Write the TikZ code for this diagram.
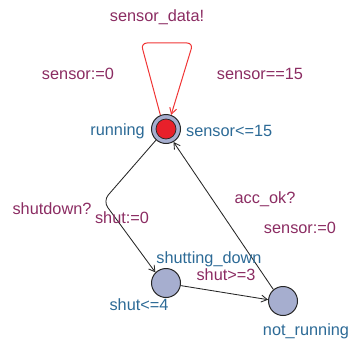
\documentclass[tikz,border=0pt]{standalone}
\usepackage{fontspec}
\setmainfont{Liberation Sans}
\usetikzlibrary{arrows.meta}
\definecolor{lblpurple}{HTML}{8B2C62}
\definecolor{lblblue}{HTML}{2C6A96}
\definecolor{locfill}{HTML}{A6AECF}
\definecolor{loopred}{HTML}{F03535}
\definecolor{initred}{HTML}{E8202A}
\begin{document}
\begin{tikzpicture}[x=1pt,y=-1pt,
  loc/.style={circle,draw=black!85,fill=locfill,line width=1pt,minimum size=29pt,inner sep=0pt},
  purp/.style={text=lblpurple,font=\fontsize{16.3}{18}\selectfont,inner sep=0pt},
  blu/.style={text=lblblue,font=\fontsize{16.3}{18}\selectfont,inner sep=0pt},
  edge/.style={draw=black!85,line width=0.85pt,-{Straight Barb[length=6pt,width=7pt]}},
  rededge/.style={draw=loopred,line width=1pt,-{Straight Barb[length=6pt,width=7pt]},rounded corners=6pt}]
\useasboundingbox (0,0) rectangle (353,345);
\node[loc] (run) at (166,129) {};
\node[circle,fill=initred,draw=black!85,line width=0.7pt,minimum size=20pt,inner sep=0pt] (runin) at (166,129) {};
\node[loc] (sd) at (166,283) {};
\node[loc] (nr) at (283,301) {};
\coordinate (l1) at (141,43);
\coordinate (l2) at (193,43);
\draw[rededge] (run.112) -- (l1) -- (l2) -- (run.70);
\coordinate (c1) at (103,201);
\draw[edge,rounded corners=8pt] (run.228) -- (c1) -- (sd.135);
\draw[edge] (nr.130) -- (run.-60);
\draw[edge] (sd.-10) -- (nr.175);
\node[purp] at (157,17) {sensor\_data!};
\node[purp] at (78,74) {sensor:=0};
\node[purp] at (260,74) {sensor==15};
\node[blu,anchor=east] at (145,131) {running};
\node[blu,anchor=west] at (186,131) {sensor<=15};
\node[purp] at (52,209) {shutdown?};
\node[purp] at (122,218) {shut:=0};
\node[purp] at (265,199) {acc\_ok?};
\node[purp] at (300,228) {sensor:=0};
\node[blu] at (209,259) {shutting\_down};
\node[purp] at (226,275) {shut>=3};
\node[blu] at (139,305) {shut<=4};
\node[blu] at (306,331) {not\_running};
\end{tikzpicture}
\end{document}
